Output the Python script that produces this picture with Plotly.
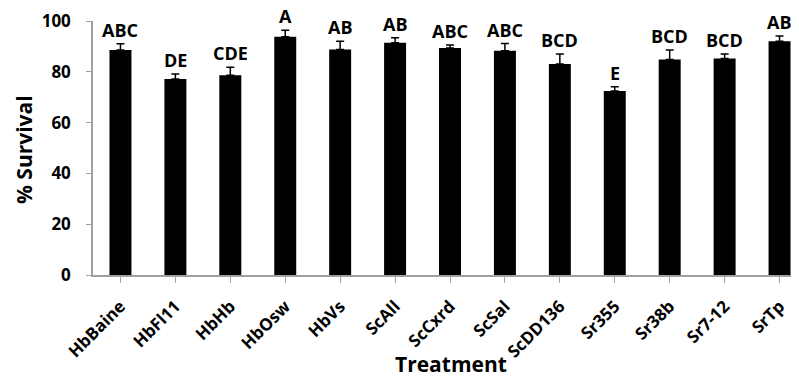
import plotly.graph_objects as go

categories = ["HbBaine", "HbFl11", "HbHb", "HbOsw", "HbVs", "ScAll", "ScCxrd",
              "ScSal", "ScDD136", "Sr355", "Sr38b", "Sr7-12", "SrTp"]
survival = [88.6, 77.2, 78.6, 93.8, 88.8, 91.4, 89.4, 88.3, 83.1, 72.4, 84.8, 85.2, 92.0]
errors = [2.4, 1.9, 3.2, 2.6, 3.2, 2.0, 1.2, 2.8, 3.9, 1.7, 3.8, 1.8, 2.1]
letters = ["ABC", "DE", "CDE", "A", "AB", "AB", "ABC", "ABC", "BCD", "E", "BCD", "BCD", "AB"]
y_ticks = [0, 20, 40, 60, 80, 100]

FONT = "Open Sans"
# page body has an 8px margin; margins below are set so the plot area lands
# at window x 93..807 and y 21..275
L, T, B, R = 85, 13, 111, 0

fig = go.Figure()
fig.add_trace(go.Bar(
    x=list(range(len(categories))),
    y=survival,
    width=0.4,
    marker=dict(color="black", line=dict(width=0)),
    error_y=dict(type="data", symmetric=False, array=errors,
                 arrayminus=[0] * len(errors), color="black",
                 thickness=1.5, width=4),
))

for i, (m, e, t) in enumerate(zip(survival, errors, letters)):
    fig.add_annotation(x=i, y=m + e, text=f"<b>{t}</b>", showarrow=False,
                       yanchor="bottom", yshift=0,
                       font=dict(family=FONT, size=18, color="black"))

fig.add_annotation(x=0.5, xref="paper", y=0, yref="paper",
                   text="<b>Treatment</b>", showarrow=False,
                   xanchor="center", yanchor="middle", yshift=-89, xshift=1,
                   font=dict(family=FONT, size=21, color="black"))

fig.add_annotation(x=0, xref="paper", y=0.492, yref="paper",
                   text="<b>% Survival</b>", showarrow=False, textangle=-90,
                   xanchor="center", yanchor="middle", xshift=-69,
                   font=dict(family=FONT, size=21, color="black"))

fig.update_layout(
    width=799, height=378,
    margin=dict(l=L, r=R, t=T, b=B),
    paper_bgcolor="white", plot_bgcolor="white",
    showlegend=False,
    xaxis=dict(
        range=[-0.5, 12.5],
        automargin=False,
        tickmode="array",
        tickvals=list(range(len(categories))),
        ticktext=[f"<b>{c}</b>" for c in categories],
        tickangle=-45,
        tickson="boundaries",
        ticks="outside", ticklen=6, tickcolor="#a0a0a0",
        ticklabelstandoff=7,
        showline=True, linecolor="#a0a0a0", linewidth=1.5,
        showgrid=False, zeroline=False,
        tickfont=dict(family=FONT, size=17, color="black"),
    ),
    yaxis=dict(
        range=[0, 100],
        automargin=False,
        tickmode="array",
        tickvals=y_ticks,
        ticktext=[f"<b>{v}</b>" for v in y_ticks],
        ticks="outside", ticklen=5, tickcolor="#a0a0a0",
        ticklabelstandoff=12,
        showline=True, linecolor="#a0a0a0", linewidth=1.5,
        showgrid=False, zeroline=False,
        tickfont=dict(family=FONT, size=17, color="black"),
    ),
)

fig.write_html("out.html")
